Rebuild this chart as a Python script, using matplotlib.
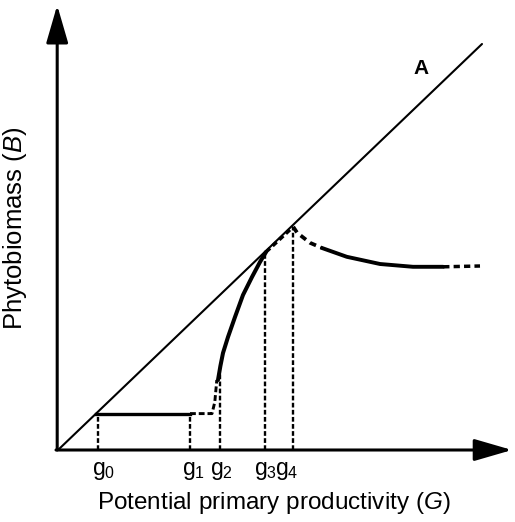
#!/usr/bin/env python3
import matplotlib
matplotlib.use('Agg')
import matplotlib.pyplot as plt

# --- values (units: G, B) ---
line_A_G = [0.0, 10.6]
line_A_B = [0.0, 10.15]

plateau_G = [0.95, 3.3]
plateau_B = [0.91, 0.91]

link_G = [3.3, 3.85, 3.92, 3.97]
link_B = [0.91, 0.91, 1.2, 1.75]

rise_G = [4.0, 4.06, 4.125, 4.25, 4.425, 4.625, 4.85, 5.05, 5.2]
rise_B = [1.75, 2.1, 2.425, 2.825, 3.325, 3.875, 4.325, 4.7, 4.95]

ridge_G = [5.2, 5.88]
ridge_B = [4.95, 5.58]

drop_G = [5.88, 5.98, 6.3, 6.6]
drop_B = [5.58, 5.43, 5.18, 5.05]

tail_G = [6.6, 7.22, 8.05, 8.875, 9.63]
tail_B = [5.05, 4.83, 4.65, 4.58, 4.58]

end_G = [9.63, 10.55]
end_B = [4.58, 4.6]

g_values = [1.0, 3.3, 4.05, 5.18, 5.88]
g_heights = [0.91, 0.91, 1.9, 4.95, 5.58]
g_labels = [r'g$_0$', r'g$_1$', r'g$_2$', r'g$_3$', r'g$_4$']
label_shift = [0.15, 0.1, 0.03, 0.0, -0.16]


def main():
	plt.rcParams['font.family'] = ['Liberation Sans', 'DejaVu Sans']
	plt.rcParams['mathtext.fontset'] = 'custom'
	plt.rcParams['mathtext.rm'] = 'Liberation Sans'
	plt.rcParams['mathtext.it'] = 'Liberation Sans:italic'

	fig = plt.figure(figsize=(5.15, 5.22), dpi=100)
	ax = fig.add_axes([0, 0, 1, 1])
	ax.set_xlim(-1.45, 11.425)
	ax.set_ylim(-1.8, 11.25)
	ax.axis('off')

	# axes with arrows
	arrow = dict(arrowstyle='-|>,head_length=1.55,head_width=0.45', lw=2.2, color='k',
				 mutation_scale=15, shrinkA=0, shrinkB=0)
	ax.annotate('', xy=(-0.02, 11.12), xytext=(-0.02, 0), arrowprops=arrow,
				annotation_clip=False)
	ax.annotate('', xy=(11.35, 0), xytext=(-0.05, 0), arrowprops=arrow,
				annotation_clip=False)

	# line A
	ax.plot(line_A_G, line_A_B, color='k', lw=1.5, solid_capstyle='round')
	ax.text(9.08, 9.55, 'A', fontsize=15, fontweight='bold', ha='center', va='center')

	# biomass curve
	ax.plot(plateau_G, plateau_B, color='k', lw=2.4)
	ax.plot(link_G, link_B, color='k', lw=2.1, dashes=(2, 1))
	ax.plot(rise_G, rise_B, color='k', lw=2.9, solid_capstyle='round')
	ax.plot(ridge_G, ridge_B, color='k', lw=2.5, dashes=(1.6, 1))
	ax.plot(drop_G, drop_B, color='k', lw=2.7, dashes=(1.8, 1.3))
	ax.plot(tail_G, tail_B, color='k', lw=2.8, solid_capstyle='round')
	ax.plot(end_G, end_B, color='k', lw=2.5, dashes=(1.8, 1.2))

	# dashed drop lines and labels
	for g, h, lab, dx in zip(g_values, g_heights, g_labels, label_shift):
		ax.plot([g, g], [0, h], color='k', lw=1.7, dashes=(2.0, 1.0))
		ax.text(g + dx, -0.52, lab, fontsize=16.5, ha='center', va='center')

	ax.text(5.4, -1.33, r'Potential primary productivity ($\mathit{G}$)', fontsize=17.5,
			ha='center', va='center')
	ax.text(-1.08, 5.55, r'Phytobiomass ($\mathit{B}$)', fontsize=18.5, rotation=90,
			ha='center', va='center')

	fig.savefig('out.png', dpi=100)


if __name__ == '__main__':
	main()
